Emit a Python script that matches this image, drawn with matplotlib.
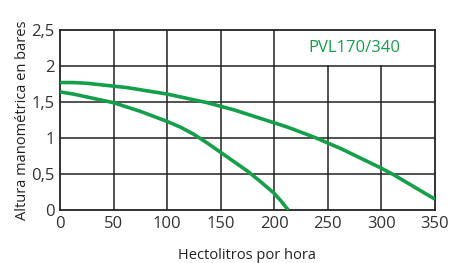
import matplotlib.pyplot as plt

caudal_a = [0, 12.5, 25, 37.5, 50, 62.5, 75, 87.5, 100, 112.5, 125, 137.5, 150, 162.5,
            175, 187.5, 200, 212.5, 225, 237.5, 250, 262.5, 275, 287.5, 300, 312.5,
            325, 337.5, 350]
altura_a = [1.77, 1.77, 1.76, 1.74, 1.72, 1.70, 1.67, 1.64, 1.61, 1.57, 1.53, 1.49, 1.44, 1.39,
            1.33, 1.27, 1.21, 1.15, 1.08, 1.01, 0.93, 0.85, 0.76, 0.67, 0.58, 0.48,
            0.37, 0.26, 0.15]

caudal_b = [0, 12.5, 25, 37.5, 50, 62.5, 75, 87.5, 100, 112.5, 125, 137.5, 150, 162.5,
            175, 187.5, 200, 206, 213]
altura_b = [1.64, 1.61, 1.57, 1.53, 1.49, 1.43, 1.37, 1.30, 1.23, 1.15, 1.05, 0.93, 0.80, 0.67,
            0.54, 0.39, 0.23, 0.13, 0.0]

xticks = [0, 50, 100, 150, 200, 250, 300, 350]
yticks = [0, 0.5, 1, 1.5, 2, 2.5]
ylabels = ["0", "0,5", "1", "1,5", "2", "2,5"]

verde = "#14a04a"
gris = "#222222"
plt.rcParams["font.family"] = ["Open Sans", "DejaVu Sans"]

fig = plt.figure(figsize=(4.5, 2.63), dpi=100)
ax = fig.add_axes([0.1333, 0.2015, 0.8334, 0.6845])

# rejilla: la caja del título ocupa 200-350 x 2-2,5
for x in [50, 100, 150, 200]:
    ax.plot([x, x], [0, 2.5], color=gris, lw=1.1, zorder=1)
for x in [250, 300]:
    ax.plot([x, x], [0, 2], color=gris, lw=1.1, zorder=1)
for y in [0.5, 1, 1.5, 2]:
    ax.plot([0, 350], [y, y], color=gris, lw=1.1, zorder=1)

ax.plot(caudal_a, altura_a, color=verde, lw=2.6, solid_capstyle="butt", zorder=3)
ax.plot(caudal_b, altura_b, color=verde, lw=2.6, solid_capstyle="butt", zorder=3)

ax.text(275, 2.25, "PVL170/340", color=verde, fontsize=12, ha="center", va="center")

ax.set_xlim(0, 350)
ax.set_ylim(0, 2.5)
ax.set_xticks(xticks)
ax.set_yticks(yticks)
ax.set_yticklabels(ylabels)
for s in ax.spines.values():
    s.set_color(gris)
    s.set_linewidth(1.3)
ax.tick_params(length=0, labelsize=12, colors="#333333", pad=4)

ax.set_xlabel("Hectolitros por hora", fontsize=10.5, color="#222222", labelpad=12)
ax.set_ylabel("Altura manométrica en bares", fontsize=10.5, color="#222222", labelpad=1)

fig.savefig("out.png", dpi=100)
